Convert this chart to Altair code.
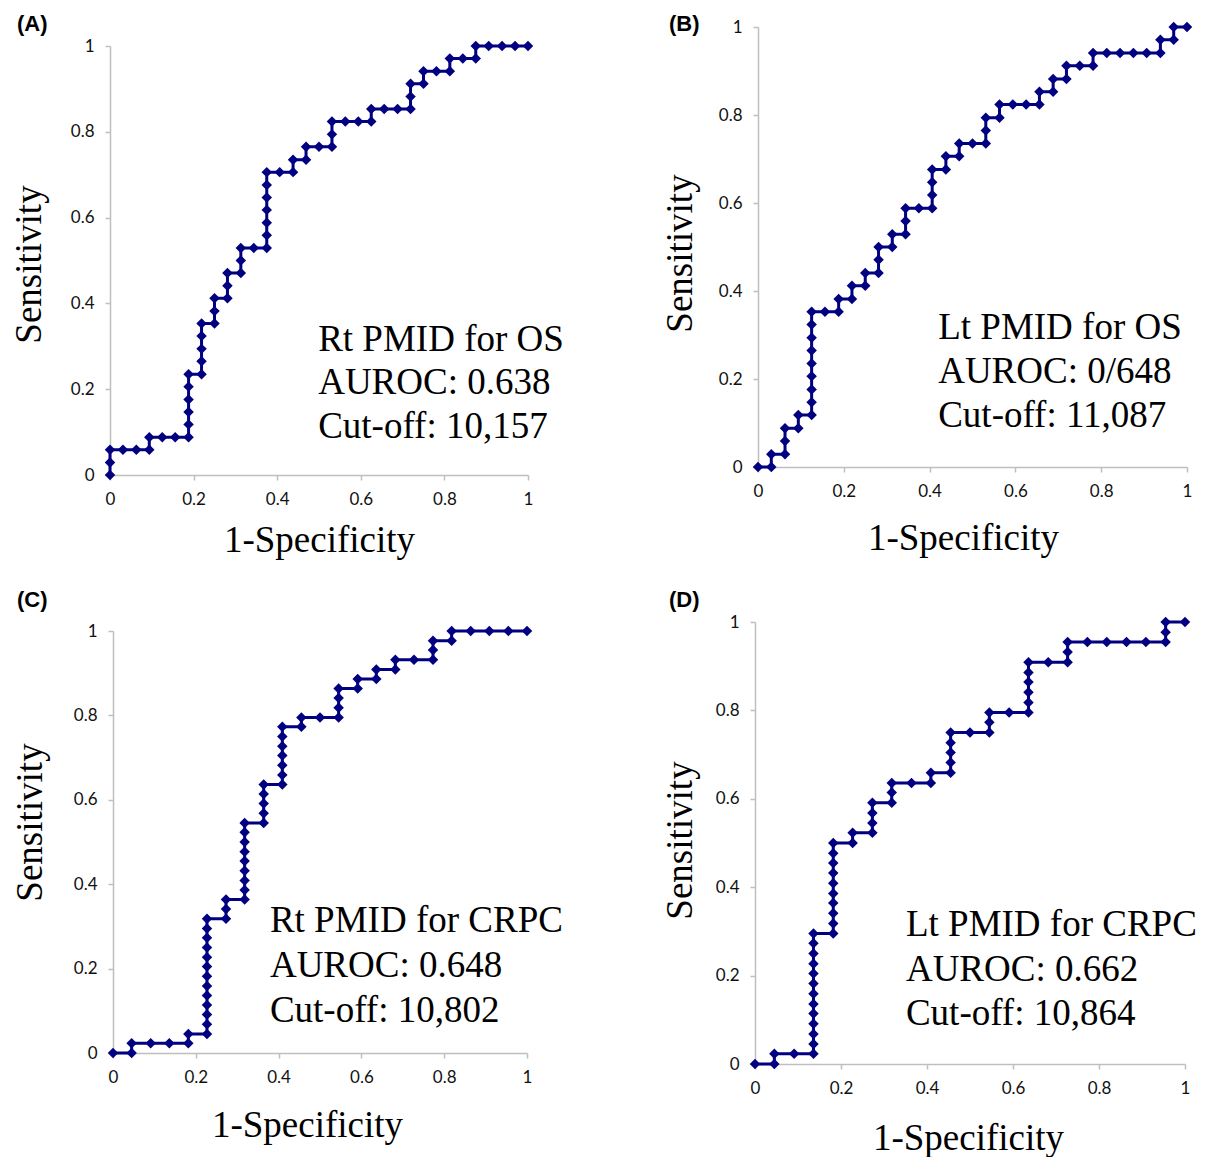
import altair as alt
import pandas as pd

W, H = 1198, 1149
NAVY = "#000080"
AXIS_GRAY = "#bfbfbf"
TICKS = [0, 0.2, 0.4, 0.6, 0.8, 1]

# ---------------- data ----------------
fpr_a = [0, 0, 0, 0.031, 0.063, 0.094, 0.094, 0.125, 0.156, 0.188,
         0.188, 0.188, 0.188, 0.188, 0.188, 0.219, 0.219, 0.219, 0.219, 0.219,
         0.25, 0.25, 0.25, 0.281, 0.281, 0.281, 0.313, 0.313, 0.313, 0.344,
         0.375, 0.375, 0.375, 0.375, 0.375, 0.375, 0.375, 0.406, 0.438, 0.438,
         0.469, 0.469, 0.5, 0.531, 0.531, 0.531, 0.563, 0.594, 0.625, 0.625,
         0.656, 0.688, 0.719, 0.719, 0.719, 0.75, 0.75, 0.781, 0.813, 0.813,
         0.844, 0.875, 0.875, 0.906, 0.938, 0.969, 1]
tpr_a = [0, 0.029, 0.059, 0.059, 0.059, 0.059, 0.088, 0.088, 0.088, 0.088,
         0.118, 0.147, 0.176, 0.206, 0.235, 0.235, 0.265, 0.294, 0.324, 0.353,
         0.353, 0.382, 0.412, 0.412, 0.441, 0.471, 0.471, 0.5, 0.529, 0.529,
         0.529, 0.559, 0.588, 0.618, 0.647, 0.676, 0.706, 0.706, 0.706, 0.735,
         0.735, 0.765, 0.765, 0.765, 0.794, 0.824, 0.824, 0.824, 0.824, 0.853,
         0.853, 0.853, 0.853, 0.882, 0.912, 0.912, 0.941, 0.941, 0.941, 0.971,
         0.971, 0.971, 1, 1, 1, 1, 1]

fpr_b = [0, 0.031, 0.031, 0.063, 0.063, 0.063, 0.094, 0.094, 0.125,
         0.125, 0.125, 0.125, 0.125, 0.125, 0.125, 0.125, 0.125,
         0.156, 0.188, 0.188, 0.219, 0.219, 0.25, 0.25, 0.281, 0.281, 0.281,
         0.313, 0.313, 0.344, 0.344, 0.344, 0.375, 0.406, 0.406, 0.406, 0.406,
         0.438, 0.438, 0.469, 0.469, 0.5, 0.531, 0.531, 0.531, 0.563, 0.563,
         0.594, 0.625, 0.656, 0.656, 0.688, 0.688, 0.719, 0.719, 0.75, 0.781,
         0.781, 0.813, 0.844, 0.875, 0.906, 0.938, 0.938, 0.969, 0.969, 1]
tpr_b = [0, 0, 0.029, 0.029, 0.059, 0.088, 0.088, 0.118, 0.118,
         0.147, 0.176, 0.206, 0.235, 0.265, 0.294, 0.324, 0.353,
         0.353, 0.353, 0.382, 0.382, 0.412, 0.412, 0.441, 0.441, 0.471, 0.5,
         0.5, 0.529, 0.529, 0.559, 0.588, 0.588, 0.588, 0.618, 0.647, 0.676,
         0.676, 0.706, 0.706, 0.735, 0.735, 0.735, 0.765, 0.794, 0.794, 0.824,
         0.824, 0.824, 0.824, 0.853, 0.853, 0.882, 0.882, 0.912, 0.912, 0.912,
         0.941, 0.941, 0.941, 0.941, 0.941, 0.941, 0.971, 0.971, 1, 1]

fpr_c = [0, 0.045, 0.045, 0.091, 0.136, 0.182, 0.182, 0.227,
         0.227, 0.227, 0.227, 0.227, 0.227, 0.227, 0.227, 0.227, 0.227, 0.227, 0.227, 0.227,
         0.273, 0.273, 0.273, 0.318,
         0.318, 0.318, 0.318, 0.318, 0.318, 0.318, 0.318, 0.318,
         0.364, 0.364, 0.364, 0.364, 0.364,
         0.409, 0.409, 0.409, 0.409, 0.409, 0.409, 0.409,
         0.455, 0.455, 0.5, 0.545, 0.545, 0.545, 0.545,
         0.591, 0.591, 0.636, 0.636, 0.682, 0.682, 0.727, 0.773, 0.773, 0.773,
         0.818, 0.818, 0.864, 0.909, 0.955, 1]
tpr_c = [0, 0, 0.023, 0.023, 0.023, 0.023, 0.045, 0.045,
         0.068, 0.091, 0.114, 0.136, 0.159, 0.182, 0.205, 0.227, 0.25, 0.273, 0.295, 0.318,
         0.318, 0.341, 0.364, 0.364,
         0.386, 0.409, 0.432, 0.455, 0.477, 0.5, 0.523, 0.545,
         0.545, 0.568, 0.591, 0.614, 0.636,
         0.636, 0.659, 0.682, 0.705, 0.727, 0.75, 0.773,
         0.773, 0.795, 0.795, 0.795, 0.818, 0.841, 0.864,
         0.864, 0.886, 0.886, 0.909, 0.909, 0.932, 0.932, 0.932, 0.955, 0.977,
         0.977, 1, 1, 1, 1, 1]

fpr_d = [0, 0.045, 0.045, 0.091, 0.136,
         0.136, 0.136, 0.136, 0.136, 0.136, 0.136, 0.136, 0.136, 0.136, 0.136, 0.136, 0.136,
         0.182, 0.182, 0.182, 0.182, 0.182, 0.182, 0.182, 0.182, 0.182, 0.182,
         0.227, 0.227,
         0.273, 0.273, 0.273, 0.273,
         0.318, 0.318, 0.318,
         0.364, 0.409, 0.409,
         0.455, 0.455, 0.455, 0.455, 0.455,
         0.5, 0.545, 0.545, 0.545,
         0.591, 0.636, 0.636, 0.636, 0.636, 0.636, 0.636,
         0.682, 0.727, 0.727, 0.727,
         0.773, 0.818, 0.864, 0.909, 0.955, 0.955, 0.955, 1]
tpr_d = [0, 0, 0.023, 0.023, 0.023,
         0.045, 0.068, 0.091, 0.114, 0.136, 0.159, 0.182, 0.205, 0.227, 0.25, 0.273, 0.295,
         0.295, 0.318, 0.341, 0.364, 0.386, 0.409, 0.432, 0.455, 0.477, 0.5,
         0.5, 0.523,
         0.523, 0.545, 0.568, 0.591,
         0.591, 0.614, 0.636,
         0.636, 0.636, 0.659,
         0.659, 0.682, 0.705, 0.727, 0.75,
         0.75, 0.75, 0.773, 0.795,
         0.795, 0.795, 0.818, 0.841, 0.864, 0.886, 0.909,
         0.909, 0.909, 0.932, 0.955,
         0.955, 0.955, 0.955, 0.955, 0.955, 0.977, 1, 1]

notes_a = ["Rt PMID for OS", "AUROC: 0.638", "Cut-off: 10,157"]
notes_b = ["Lt PMID for OS", "AUROC: 0/648", "Cut-off: 11,087"]
notes_c = ["Rt PMID for CRPC", "AUROC: 0.648", "Cut-off: 10,802"]
notes_d = ["Lt PMID for CRPC", "AUROC: 0.662", "Cut-off: 10,864"]
letters = ["(A)", "(B)", "(C)", "(D)"]

# ---------------- layout (chart pixel coordinates) ----------------
panels = [
    dict(fpr=fpr_a, tpr=tpr_a, notes=notes_a, xr=[102, 520], yr=[467, 38],
         tx=0.498, ty=0.315, lh=43.5, xtx=311, xty=65, ytx=-81, yty=256),
    dict(fpr=fpr_b, tpr=tpr_b, notes=notes_b, xr=[750, 1179], yr=[459, 19],
         tx=0.42, ty=0.316, lh=44, xtx=955, xty=71, ytx=-78, yty=245),
    dict(fpr=fpr_c, tpr=tpr_c, notes=notes_c, xr=[105, 519], yr=[1045, 623],
         tx=0.379, ty=0.313, lh=45, xtx=299, xty=72, ytx=-83, yty=814),
    dict(fpr=fpr_d, tpr=tpr_d, notes=notes_d, xr=[747, 1177], yr=[1056, 614],
         tx=0.351, ty=0.314, lh=44.5, xtx=960, xty=74, ytx=-75, yty=832),
]
letter_pos = [(9, 16), (661, 16), (9, 592), (661, 592)]

one = pd.DataFrame({"k": [0]})

axis_common = dict(
    values=TICKS, format="~g", grid=False,
    domainColor=AXIS_GRAY, domainWidth=1.5,
    tickColor=AXIS_GRAY, tickWidth=1.5, tickSize=5,
    labelFont="Lato", labelFontSize=17, labelColor="#111111", labelPadding=11,
    labelFlush=False,
    titleFont="Liberation Serif", titleFontSize=37, titleFontWeight="normal",
    titleColor="black", titleBaseline="middle", titleAlign="center",
)


def make_layers(p):
    n = len(p["fpr"])
    assert n == len(p["tpr"])
    df = pd.DataFrame({"i": list(range(n)), "fpr": p["fpr"], "tpr": p["tpr"]})
    xs = alt.Scale(domain=[0, 1], range=p["xr"], nice=False, zero=False)
    ys = alt.Scale(domain=[0, 1], range=p["yr"], nice=False, zero=False)
    xaxis = alt.Axis(orient="bottom", offset=p["yr"][0] - H, title="1-Specificity",
                     titleX=p["xtx"], titleY=p["xty"], **axis_common)
    yaxis = alt.Axis(orient="left", offset=-p["xr"][0], title="Sensitivity",
                     titleX=p["ytx"], titleY=p["yty"], titleAngle=270, **axis_common)
    line = alt.Chart(df).mark_line(color=NAVY, strokeWidth=3).encode(
        x=alt.X("fpr:Q", scale=xs, axis=xaxis),
        y=alt.Y("tpr:Q", scale=ys, axis=yaxis),
        order="i:Q",
    )
    pts = alt.Chart(df).mark_point(
        shape="diamond", filled=True, size=110, color=NAVY, opacity=1
    ).encode(
        x=alt.X("fpr:Q", scale=xs, axis=None),
        y=alt.Y("tpr:Q", scale=ys, axis=None),
    )
    txt = alt.Chart(one).mark_text(
        font="Liberation Serif", fontSize=37, align="left", baseline="middle",
        lineHeight=p["lh"], color="black",
    ).encode(
        x=alt.XDatum(p["tx"], type="quantitative", scale=xs, axis=None),
        y=alt.YDatum(p["ty"], type="quantitative", scale=ys, axis=None),
        text=alt.value(p["notes"]),
    )
    return [line, pts, txt]


layers = []
for p in panels:
    layers.extend(make_layers(p))
for lab, (lx, ly) in zip(letters, letter_pos):
    layers.append(
        alt.Chart(one).mark_text(
            text=lab, font="Liberation Sans", fontWeight="bold", fontSize=22,
            align="left", baseline="middle", color="black",
        ).encode(x=alt.value(lx), y=alt.value(ly))
    )

chart = alt.layer(*layers).resolve_scale(
    x="independent", y="independent"
).properties(
    width=W, height=H, autosize=alt.AutoSizeParams(type="none"), padding=0,
    background="white",
).configure_view(stroke=None)

chart.save("out.html", embed_options={"renderer": "svg", "actions": False})
